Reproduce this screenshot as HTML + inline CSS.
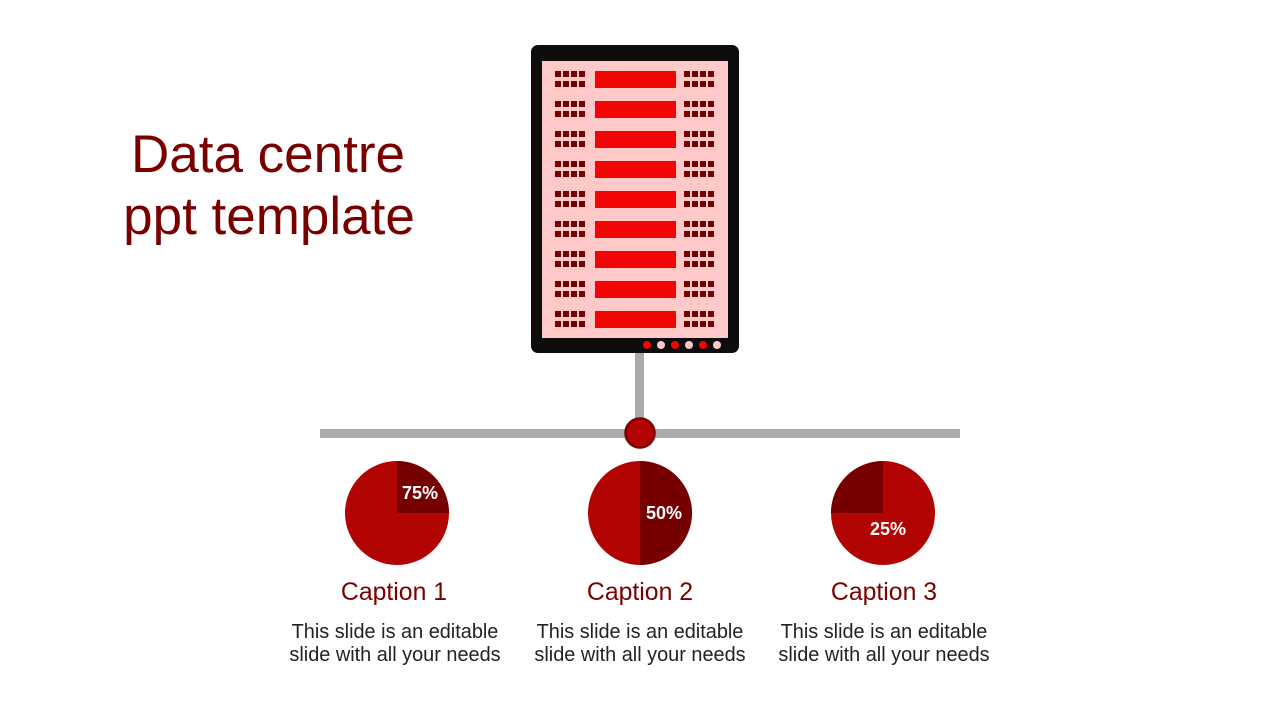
<!DOCTYPE html>
<html><head><meta charset="utf-8"><style>
body{margin:0;width:1280px;height:720px;background:#fff;overflow:hidden;font-family:"Liberation Sans",sans-serif}
</style></head><body>
<svg width="1280" height="720" xmlns="http://www.w3.org/2000/svg" style="position:absolute;left:0;top:0">
<text x="268" y="172" font-size="53" fill="#7a0000" text-anchor="middle" font-family="Liberation Sans,sans-serif">Data centre</text>
<text x="269" y="234" font-size="53" fill="#7a0000" text-anchor="middle" font-family="Liberation Sans,sans-serif">ppt template</text>
<rect x="635" y="350" width="9" height="72" fill="#aeaaaa"/>
<rect x="320" y="429" width="640" height="9" fill="#aeaaaa"/>
<circle cx="640" cy="433" r="14.5" fill="#b30404" stroke="#7a0000" stroke-width="2.5"/>
<rect x="531" y="45" width="208" height="308" rx="7" fill="#0d0d0d"/>
<rect x="542" y="61" width="186" height="277" fill="#ffc9c9"/>
<g id="rows"></g>
<g fill="#f20505"><circle cx="647" cy="345" r="4"/><circle cx="675" cy="345" r="4"/><circle cx="703" cy="345" r="4"/></g>
<g fill="#ffc9c9"><circle cx="661" cy="345" r="4"/><circle cx="689" cy="345" r="4"/><circle cx="717" cy="345" r="4"/></g>
<circle cx="397" cy="513" r="52" fill="#b30404"/>
<path d="M397 513 L397 461 A52 52 0 0 1 449 513 Z" fill="#760000"/>
<circle cx="640" cy="513" r="52" fill="#b30404"/>
<path d="M640 513 L640 461 A52 52 0 0 1 640 565 Z" fill="#760000"/>
<circle cx="883" cy="513" r="52" fill="#b30404"/>
<path d="M883 513 L831 513 A52 52 0 0 1 883 461 Z" fill="#760000"/>
<g font-size="18" font-weight="bold" fill="#fff" text-anchor="middle">
<text x="420" y="499">75%</text><text x="664" y="519">50%</text><text x="888" y="535">25%</text></g>
<g font-size="24.8" fill="#7a0000" text-anchor="middle">
<text x="394" y="600">Caption 1</text><text x="640" y="600">Caption 2</text><text x="884" y="600">Caption 3</text></g>
<g font-size="19.9" fill="#222" text-anchor="middle">
<text x="395" y="638">This slide is an editable</text><text x="395" y="661">slide with all your needs</text>
<text x="640" y="638">This slide is an editable</text><text x="640" y="661">slide with all your needs</text>
<text x="884" y="638">This slide is an editable</text><text x="884" y="661">slide with all your needs</text></g>
</svg>
<script>
var g=document.getElementById('rows'),s='';
for(var r=0;r<9;r++){var y=71+r*30;
s+='<rect x="595" y="'+y+'" width="81" height="17" fill="#f20505"/>';
[555,684].forEach(function(bx){for(var c=0;c<4;c++)for(var k=0;k<2;k++)s+='<rect x="'+(bx+c*8)+'" y="'+(y+k*10)+'" width="6" height="6" fill="#760000"/>';});}
g.innerHTML=s;
</script>
</body></html>
